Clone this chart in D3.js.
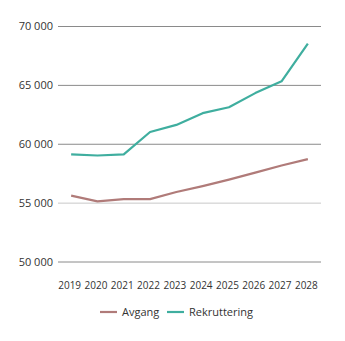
<!DOCTYPE html>
<html><head><meta charset="utf-8">
<script src="https://cdn.jsdelivr.net/npm/d3@7"></script>
<style>body{margin:0;background:#fff;} text{font-family:"Open Sans",sans-serif;}</style>
</head><body><svg id="c" width="345" height="341"></svg>
<script>
const years = ["2019","2020","2021","2022","2023","2024","2025","2026","2027","2028"];
const avgang = [55600,55100,55300,55300,55900,56400,56950,57550,58150,58700];
const rekruttering = [59100,59000,59100,61000,61600,62600,63100,64300,65300,68500];
const yTicks = [50000,55000,60000,65000,70000];
const seriesNames = ["Avgang","Rekruttering"];
const colors = ["#b07b79","#3fae9f"];

const svg = d3.select("#c");
const L = 58, R = 321, T = 26, B = 261.5;
const x = d3.scalePoint().domain(years).range([L, R]).padding(0.5);
const y = d3.scaleLinear().domain([50000,70000]).range([B, T]);

const gy = svg.append("g").attr("transform",`translate(${L},0)`)
  .call(d3.axisLeft(y).tickValues(yTicks).tickSize(-(R-L)).tickPadding(5).tickFormat(v => d3.format(",")(v).replace(/,/g," ")));
gy.select(".domain").remove();
gy.selectAll(".tick line").attr("stroke", d => d === 55000 ? "#c8c8c8" : "#8a8a8a").attr("stroke-width",1);
gy.selectAll(".tick text").attr("font-size","11px").attr("fill","#333");

const gx = svg.append("g").attr("transform",`translate(0,${B})`)
  .call(d3.axisBottom(x).tickSize(0).tickPadding(20));
gx.select(".domain").remove();
gx.selectAll(".tick text").attr("font-size","10px").attr("fill","#333").attr("dx","-2");

const line = d3.line().x((d,i)=>x(years[i])).y(d=>y(d));
[avgang, rekruttering].forEach((s,i)=>{
  svg.append("path").datum(s).attr("d",line).attr("fill","none")
    .attr("stroke",colors[i]).attr("stroke-width",2.2).attr("stroke-linejoin","round");
});

const lg = svg.append("g");
const lx = [100,167];
seriesNames.forEach((n,i)=>{
  lg.append("line").attr("x1",lx[i]).attr("x2",lx[i]+17).attr("y1",312).attr("y2",312)
    .attr("stroke",colors[i]).attr("stroke-width",2.2);
  lg.append("text").attr("x",lx[i]+22).attr("y",312).attr("dy","0.35em")
    .attr("font-size","11px").attr("fill","#333").text(n);
});
</script></body></html>
